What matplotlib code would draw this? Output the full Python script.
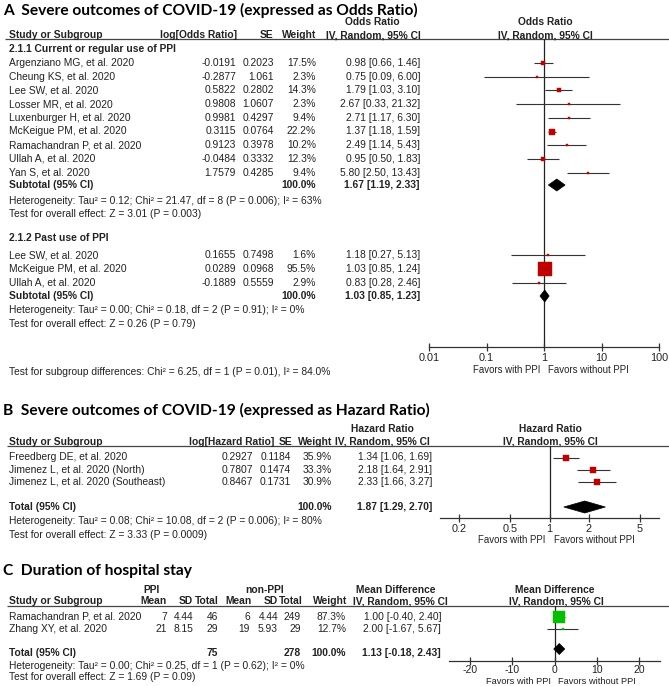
import matplotlib
matplotlib.use("Agg")
import matplotlib.pyplot as plt
from matplotlib.patches import Polygon

# ---------------- data ----------------
# Panel A - subgroup 2.1.1 Current or regular use of PPI
a1_study = ["Argenziano MG, et al. 2020", "Cheung KS, et al. 2020", "Lee SW, et al. 2020",
            "Losser MR, et al. 2020", "Luxenburger H, et al. 2020", "McKeigue PM, et al. 2020",
            "Ramachandran P, et al. 2020", "Ullah A, et al. 2020", "Yan S, et al. 2020"]
a1_logor = ["-0.0191", "-0.2877", "0.5822", "0.9808", "0.9981", "0.3115", "0.9123", "-0.0484", "1.7579"]
a1_se = ["0.2023", "1.061", "0.2802", "1.0607", "0.4297", "0.0764", "0.3978", "0.3332", "0.4285"]
a1_weight = [17.5, 2.3, 14.3, 2.3, 9.4, 22.2, 10.2, 12.3, 9.4]
a1_or = [0.98, 0.75, 1.79, 2.67, 2.71, 1.37, 2.49, 0.95, 5.80]
a1_lo = [0.66, 0.09, 1.03, 0.33, 1.17, 1.18, 1.14, 0.50, 2.50]
a1_hi = [1.46, 6.00, 3.10, 21.32, 6.30, 1.59, 5.43, 1.83, 13.43]
a1_total = [1.67, 1.19, 2.33]
a1_total_weight = "100.0%"
a1_het = "Heterogeneity: Tau² = 0.12; Chi² = 21.47, df = 8 (P = 0.006); I² = 63%"
a1_test = "Test for overall effect: Z = 3.01 (P = 0.003)"

# Panel A - subgroup 2.1.2 Past use of PPI
a2_study = ["Lee SW, et al. 2020", "McKeigue PM, et al. 2020", "Ullah A, et al. 2020"]
a2_logor = ["0.1655", "0.0289", "-0.1889"]
a2_se = ["0.7498", "0.0968", "0.5559"]
a2_weight = [1.6, 95.5, 2.9]
a2_or = [1.18, 1.03, 0.83]
a2_lo = [0.27, 0.85, 0.28]
a2_hi = [5.13, 1.24, 2.46]
a2_total = [1.03, 0.85, 1.23]
a2_total_weight = "100.0%"
a2_het = "Heterogeneity: Tau² = 0.00; Chi² = 0.18, df = 2 (P = 0.91); I² = 0%"
a2_test = "Test for overall effect: Z = 0.26 (P = 0.79)"
a_subgroup_test = "Test for subgroup differences: Chi² = 6.25, df = 1 (P = 0.01), I² = 84.0%"
a_ticks = [0.01, 0.1, 1, 10, 100]
a_ticklabels = ["0.01", "0.1", "1", "10", "100"]

# Panel B - hazard ratio
b_study = ["Freedberg DE, et al. 2020", "Jimenez L, et al. 2020 (North)", "Jimenez L, et al. 2020 (Southeast)"]
b_loghr = ["0.2927", "0.7807", "0.8467"]
b_se = ["0.1184", "0.1474", "0.1731"]
b_weight = [35.9, 33.3, 30.9]
b_hr = [1.34, 2.18, 2.33]
b_lo = [1.06, 1.64, 1.66]
b_hi = [1.69, 2.91, 3.27]
b_total = [1.87, 1.29, 2.70]
b_total_weight = "100.0%"
b_het = "Heterogeneity: Tau² = 0.08; Chi² = 10.08, df = 2 (P = 0.006); I² = 80%"
b_test = "Test for overall effect: Z = 3.33 (P = 0.0009)"
b_ticks = [0.2, 0.5, 1, 2, 5]
b_ticklabels = ["0.2", "0.5", "1", "2", "5"]

# Panel C - duration of hospital stay
c_study = ["Ramachandran P, et al. 2020", "Zhang XY, et al. 2020"]
c_ppi_mean = [7, 21]
c_ppi_sd = ["4.44", "8.15"]
c_ppi_n = [46, 29]
c_non_mean = [6, 19]
c_non_sd = ["4.44", "5.93"]
c_non_n = [249, 29]
c_weight = [87.3, 12.7]
c_md = [1.00, 2.00]
c_lo = [-0.40, -1.67]
c_hi = [2.40, 5.67]
c_total = [1.13, -0.18, 2.43]
c_total_weight = "100.0%"
c_het = "Heterogeneity: Tau² = 0.00; Chi² = 0.25, df = 1 (P = 0.62); I² = 0%"
c_test = "Test for overall effect: Z = 1.69 (P = 0.09)"
c_ticks = [-20, -10, 0, 10, 20]
c_ticklabels = ["-20", "-10", "0", "10", "20"]

# ---------------- style ----------------
W, H = 669, 686
FONT = "Liberation Sans"
TFONT = "Lato"
FS = 7.35
TFS = 11.2
TXT = "#222222"
RED = "#C00000"
GREEN = "#00C000"

fig = plt.figure(figsize=(W / 100, H / 100), dpi=100)
bg = fig.add_axes([0, 0, 1, 1])
bg.set_xlim(0, W)
bg.set_ylim(H, 0)
bg.axis("off")


def t(x, y, s, ha="left", bold=False, size=FS, color=TXT, family=FONT):
    bg.text(x, y, s, ha=ha, va="center", fontsize=size, color=color,
            fontweight="bold" if bold else "normal", family=family)


def hline(y, x0=6, x1=W):
    bg.plot([x0, x1], [y, y], color="#444444", lw=0.9, solid_capstyle="butt")


def title(y, s):
    bg.text(3, y, s, ha="left", va="center", fontsize=TFS, fontweight="bold",
            family=TFONT, color="black")


def fmt_ci(e, lo, hi):
    return f"{e:.2f} [{lo:.2f}, {hi:.2f}]"


def forest_axes(x0, x1, ytop, ybot, scale, xlim, ticks, labels, tfs=7.8, pad=1.5):
    ax = fig.add_axes([x0 / W, 1 - ybot / H, (x1 - x0) / W, (ybot - ytop) / H])
    ax.set_xscale(scale)
    ax.set_xlim(*xlim)
    ax.set_ylim(ybot, ytop)
    ax.patch.set_alpha(0)
    for s in ["top", "right", "left"]:
        ax.spines[s].set_visible(False)
    ax.spines["bottom"].set_color("#333333")
    ax.spines["bottom"].set_linewidth(0.9)
    ax.set_yticks([])
    ax.set_xticks(ticks)
    ax.set_xticklabels(labels, family=FONT, fontsize=tfs, color=TXT)
    ax.minorticks_off()
    ax.tick_params(axis="x", direction="inout", length=6, width=0.9, pad=pad, color="#333333")
    ax.axvline(1 if scale == "log" else 0, color="#222222", lw=0.9, zorder=1)
    return ax


def studies(ax, ys, est, lo, hi, weights, k, color):
    for y, e, l, h, w in zip(ys, est, lo, hi, weights):
        ax.plot([l, h], [y, y], color="#333333", lw=0.8, zorder=2, solid_capstyle="butt")
        side = max(2.0, k * w ** 0.75)
        ax.plot([e], [y], marker="s", linestyle="none", markersize=side * 0.72,
                markerfacecolor=color, markeredgecolor=color, markeredgewidth=0.3, zorder=3)


def diamond(ax, y, tot, h=6):
    e, l, hi = tot
    ax.add_patch(Polygon([(l, y), (e, y - h), (hi, y), (e, y + h)], closed=True,
                         facecolor="black", edgecolor="black", lw=0.5, zorder=4))


def favors(ax, xref, y, size=6.9):
    xd = ax.transData.transform((xref, 1))[0]
    t(xd - 4, y, "Favors with PPI", ha="right", size=size)
    t(xd + 4, y, "Favors without PPI", ha="left", size=size)


# ================= Panel A =================
title(10.5, "A  Severe outcomes of COVID-19 (expressed as Odds Ratio)")
t(372, 22, "Odds Ratio", ha="center", bold=True)
t(545, 22, "Odds Ratio", ha="center", bold=True)
t(9, 35, "Study or Subgroup", bold=True)
t(237, 35, "log[Odds Ratio]", ha="right", bold=True)
t(273, 35, "SE", ha="right", bold=True)
t(316, 35, "Weight", ha="right", bold=True)
t(373, 35, "IV, Random, 95% CI", ha="center", bold=True)
t(545, 35, "IV, Random, 95% CI", ha="center", bold=True)
hline(39, 5)

axA = forest_axes(429, 659, 39, 347, "log", (0.01, 100), a_ticks, a_ticklabels)

t(9, 49, "2.1.1 Current or regular use of PPI", bold=True)
ya1 = [63 + 13.7 * i for i in range(len(a1_study))]
for y, s, lg, se, w, e, l, h in zip(ya1, a1_study, a1_logor, a1_se, a1_weight, a1_or, a1_lo, a1_hi):
    t(9, y, s)
    t(236, y, lg, ha="right")
    t(274, y, se, ha="right")
    t(316, y, f"{w:.1f}%", ha="right")
    t(420, y, fmt_ci(e, l, h), ha="right")
studies(axA, ya1, a1_or, a1_lo, a1_hi, a1_weight, 0.49, RED)
t(9, 185, "Subtotal (95% CI)", bold=True)
t(316, 185, a1_total_weight, ha="right", bold=True)
t(420, 185, fmt_ci(*a1_total), ha="right", bold=True)
diamond(axA, 185, a1_total)
t(9, 201, a1_het)
t(9, 214, a1_test)

t(9, 238, "2.1.2 Past use of PPI", bold=True)
ya2 = [255 + 13.8 * i for i in range(len(a2_study))]
for y, s, lg, se, w, e, l, h in zip(ya2, a2_study, a2_logor, a2_se, a2_weight, a2_or, a2_lo, a2_hi):
    t(9, y, s)
    t(236, y, lg, ha="right")
    t(274, y, se, ha="right")
    t(316, y, f"{w:.1f}%", ha="right")
    t(420, y, fmt_ci(e, l, h), ha="right")
studies(axA, ya2, a2_or, a2_lo, a2_hi, a2_weight, 0.49, RED)
t(9, 296, "Subtotal (95% CI)", bold=True)
t(316, 296, a2_total_weight, ha="right", bold=True)
t(420, 296, fmt_ci(*a2_total), ha="right", bold=True)
diamond(axA, 296, a2_total)
t(9, 310, a2_het)
t(9, 324, a2_test)
t(9, 372, a_subgroup_test)
favors(axA, 1, 370)

# ================= Panel B =================
title(410.5, "B  Severe outcomes of COVID-19 (expressed as Hazard Ratio)")
t(382, 429, "Hazard Ratio", ha="center", bold=True)
t(550, 429, "Hazard Ratio", ha="center", bold=True)
t(9, 442, "Study or Subgroup", bold=True)
t(274, 442, "log[Hazard Ratio]", ha="right", bold=True)
t(292, 442, "SE", ha="right", bold=True)
t(332, 442, "Weight", ha="right", bold=True)
t(382, 442, "IV, Random, 95% CI", ha="center", bold=True)
t(550, 442, "IV, Random, 95% CI", ha="center", bold=True)
hline(446, 7)

axB = forest_axes(440, 659, 446, 518, "log", (1 / 7, 7), b_ticks, b_ticklabels)
yb = [457.5 + 12.3 * i for i in range(len(b_study))]
for y, s, lg, se, w, e, l, h in zip(yb, b_study, b_loghr, b_se, b_weight, b_hr, b_lo, b_hi):
    t(9, y, s)
    t(253, y, lg, ha="right")
    t(291, y, se, ha="right")
    t(332, y, f"{w:.1f}%", ha="right")
    t(432, y, fmt_ci(e, l, h), ha="right")
studies(axB, yb, b_hr, b_lo, b_hi, b_weight, 0.41, RED)
t(9, 507, "Total (95% CI)", bold=True)
t(332, 507, b_total_weight, ha="right", bold=True)
t(432, 507, fmt_ci(*b_total), ha="right", bold=True)
diamond(axB, 507, b_total)
t(9, 521, b_het)
t(9, 535, b_test)
favors(axB, 1, 540)

# ================= Panel C =================
title(571.5, "C  Duration of hospital stay")
t(151, 590, "PPI", ha="center", bold=True)
t(265, 590, "non-PPI", ha="center", bold=True)
t(396, 590, "Mean Difference", ha="center", bold=True)
t(555, 590, "Mean Difference", ha="center", bold=True)
t(9, 601, "Study or Subgroup", bold=True)
for x, s in zip([167, 193, 219, 252, 278, 303, 347],
                ["Mean", "SD", "Total", "Mean", "SD", "Total", "Weight"]):
    t(x, 601, s, ha="right", bold=True)
t(400, 601, "IV, Random, 95% CI", ha="center", bold=True)
t(556, 601, "IV, Random, 95% CI", ha="center", bold=True)
hline(606, 7)

axC = forest_axes(449, 660, 606, 660.5, "linear", (-25, 25), c_ticks, c_ticklabels, tfs=7.5, pad=0.5)
yc = [616.5 + 12 * i for i in range(len(c_study))]
for i, y in enumerate(yc):
    t(9, y, c_study[i])
    t(167, y, str(c_ppi_mean[i]), ha="right")
    t(193, y, c_ppi_sd[i], ha="right")
    t(218, y, str(c_ppi_n[i]), ha="right")
    t(250, y, str(c_non_mean[i]), ha="right")
    t(278, y, c_non_sd[i], ha="right")
    t(301, y, str(c_non_n[i]), ha="right")
    t(346, y, f"{c_weight[i]:.1f}%", ha="right")
    t(441, y, fmt_ci(c_md[i], c_lo[i], c_hi[i]), ha="right")
studies(axC, yc, c_md, c_lo, c_hi, c_weight, 0.42, GREEN)
t(9, 653, "Total (95% CI)", bold=True)
t(218, 653, str(sum(c_ppi_n)), ha="right", bold=True)
t(301, 653, str(sum(c_non_n)), ha="right", bold=True)
t(346, 653, c_total_weight, ha="right", bold=True)
t(441, 653, fmt_ci(*c_total), ha="right", bold=True)
diamond(axC, 649, c_total, h=5.5)
t(9, 666, c_het)
t(9, 677, c_test)
favors(axC, 0, 681.5, size=6.7)

fig.savefig("out.png", dpi=100)
